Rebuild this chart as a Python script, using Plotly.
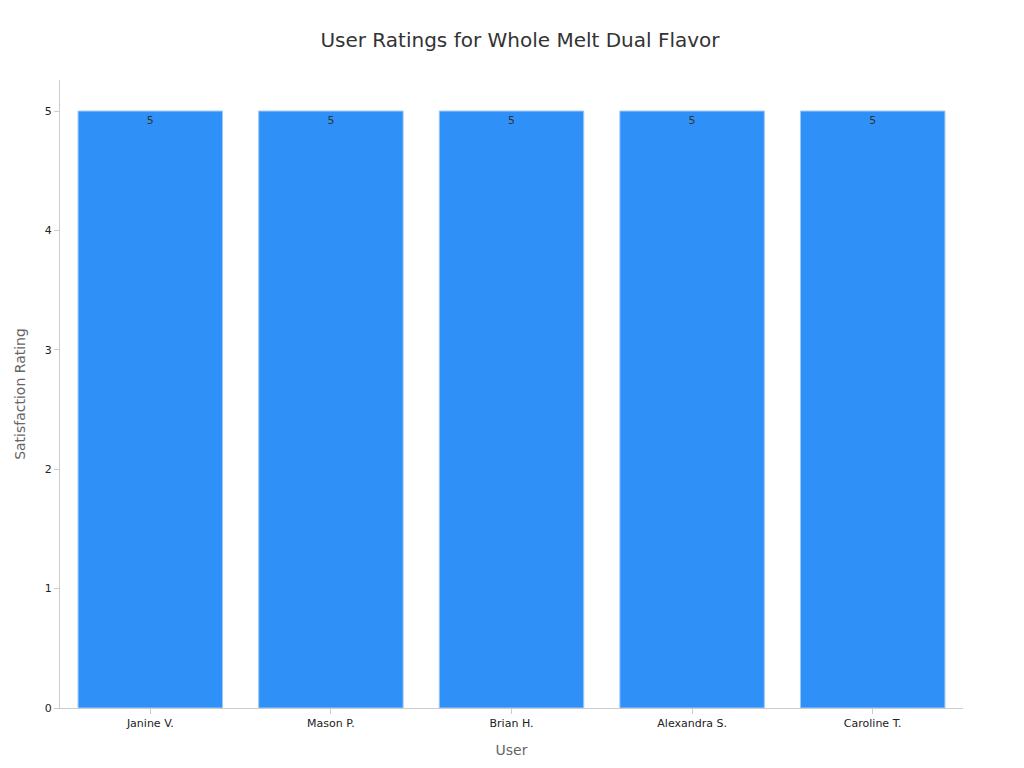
import plotly.graph_objects as go

users = ["Janine V.", "Mason P.", "Brian H.", "Alexandra S.", "Caroline T."]
ratings = [5, 5, 5, 5, 5]

fig = go.Figure(go.Bar(
    x=users, y=ratings, text=ratings, textposition="inside",
    insidetextanchor="end", textfont=dict(color="#333", size=11),
    marker=dict(color="#2f91f7", line=dict(color="#9cc8f5", width=1)),
))
fig.update_layout(
    width=1024, height=768,
    font=dict(family="DejaVu Sans", size=11, color="#222"),
    title=dict(text="User Ratings for Whole Melt Dual Flavor", x=0.5, y=0.967,
               xanchor="center", font=dict(size=20, color="#333")),
    plot_bgcolor="white", paper_bgcolor="white",
    margin=dict(l=52, r=69, t=72, b=68),
    bargap=0.2, showlegend=False,
    xaxis=dict(title=dict(text="User", font=dict(color="#666", size=14)),
               showline=True, linecolor="#ccc", ticks="outside", tickcolor="#ccc",
               ticklen=5),
    yaxis=dict(title=dict(text="Satisfaction Rating", font=dict(color="#666", size=14)),
               range=[0, 5.26], dtick=1, showgrid=False, zeroline=False,
               showline=True, linecolor="#ccc", ticks="outside", tickcolor="#ccc",
               ticklen=5),
)
fig.write_html("out.html")
